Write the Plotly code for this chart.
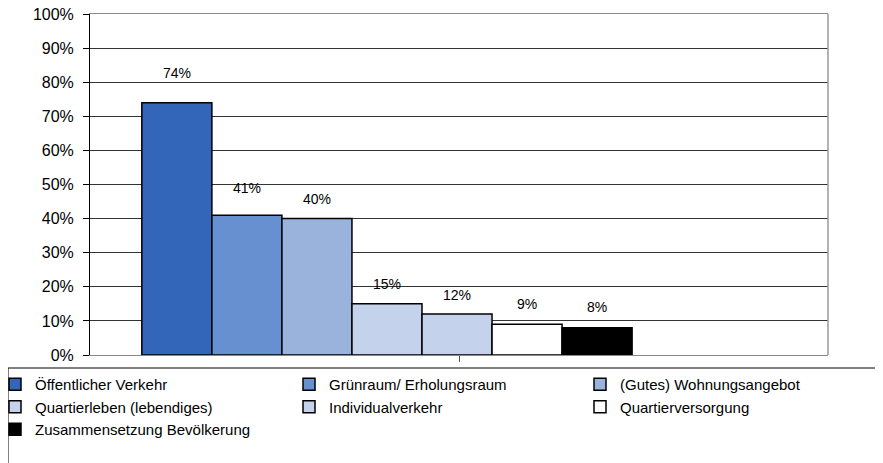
import plotly.graph_objects as go

series = ["Öffentlicher Verkehr", "Grünraum/ Erholungsraum", "(Gutes) Wohnungsangebot",
          "Quartierleben (lebendiges)", "Individualverkehr", "Quartierversorgung",
          "Zusammensetzung Bevölkerung"]
values = [0.74, 0.41, 0.40, 0.15, 0.12, 0.09, 0.08]
labels = ["74%", "41%", "40%", "15%", "12%", "9%", "8%"]
colors = ["#3366B8", "#6690CF", "#99B3DC", "#C4D3EB", "#C4D3EB", "#FFFFFF", "#000000"]
label_shift = [30, 27, 20, 20, 19, 20, 21]

FONT = "Arial, Liberation Sans, sans-serif"
n_slots = 9
W = 0.0949
start = 0.5 - n_slots * W / 2 - 0.0027

# page has an 8px body margin: figure drawn at (8, 8)
FW, FH = 875, 455
L, T, R, B = 82, 6, 55, 108
PW, PH = FW - L - R, FH - T - B

legend_ids = ["legend", "legend2", "legend3"]
fig = go.Figure()
for i, (name, v, c) in enumerate(zip(series, values, colors)):
    fig.add_trace(go.Bar(
        x=[0.5], y=[v], name=name, width=W, offset=start - 0.5 + i * W,
        marker=dict(color=c, line=dict(color="#000000", width=1.5)),
        hoverinfo="skip", legend=legend_ids[i % 3],
    ))
    fig.add_annotation(x=start + (i + 0.5) * W, y=v, text=labels[i], showarrow=False,
                       yshift=label_shift[i], font=dict(family=FONT, size=14, color="#000"))

leg_top = (T + PH - 360) / PH
leg_common = dict(orientation="v", yanchor="top", xanchor="left", y=leg_top,
                  borderwidth=0, bgcolor="rgba(0,0,0,0)", traceorder="normal",
                  font=dict(family=FONT, size=15, color="#000"))
col_left = [-13, 281, 572]  # figure px

fig.update_layout(
    width=FW, height=FH,
    margin=dict(l=L, r=R, t=T, b=B, autoexpand=False),
    plot_bgcolor="white", paper_bgcolor="white",
    barmode="overlay",
    showlegend=True,
    font=dict(family=FONT, color="#000"),
    legend=dict(x=(col_left[0] - L) / PW, **leg_common),
    legend2=dict(x=(col_left[1] - L) / PW, **leg_common),
    legend3=dict(x=(col_left[2] - L) / PW, **leg_common),
    xaxis=dict(range=[0, 1], showgrid=False, zeroline=False, showline=True,
               linecolor="#888888", linewidth=1, mirror=True, automargin=False,
               tickmode="array", tickvals=[0.5], ticktext=[""], ticks="outside",
               ticklen=6, tickcolor="#555555"),
    yaxis=dict(range=[0, 1], dtick=0.1, tickformat=".0%", showgrid=True,
               gridcolor="#333333", gridwidth=1, zeroline=False, automargin=False,
               showline=True, linecolor="#000000", linewidth=1,
               ticks="outside", ticklen=6, tickcolor="#000000",
               ticklabeloverflow="allow", ticklabelstandoff=6,
               tickfont=dict(family=FONT, size=16, color="#000")),
)
fig.add_shape(type="line", xref="paper", yref="paper", x0=1, x1=1, y0=0, y1=1,
              line=dict(color="#999999", width=1.5))
# legend frame
fig.add_shape(type="rect", xref="paper", yref="paper",
              x0=(0 - L) / PW, x1=1.3, y0=-0.6, y1=leg_top,
              line=dict(color="#000000", width=1), fillcolor="rgba(0,0,0,0)")
fig.write_html("out.html")
